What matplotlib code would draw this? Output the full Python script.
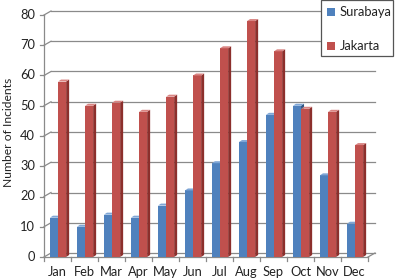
import matplotlib
matplotlib.use("Agg")
import matplotlib.pyplot as plt
from matplotlib.patches import Polygon, Rectangle
from matplotlib import transforms

months = ["Jan", "Feb", "Mar", "Apr", "May", "Jun", "Jul", "Aug", "Sep", "Oct", "Nov", "Dec"]
surabaya = [13, 10, 14, 13, 17, 22, 31, 38, 47, 50, 27, 11]
jakarta = [58, 50, 51, 48, 53, 60, 69, 78, 68, 49, 48, 37]
series_names = ["Surabaya", "Jakarta"]
yticks = [0, 10, 20, 30, 40, 50, 60, 70, 80]

W, H = 395, 278
DPI = 100
plt.rcParams['font.family'] = ['Lato', 'DejaVu Sans']
FS = 9.3

fig = plt.figure(figsize=(W / DPI, H / DPI), dpi=DPI)
L, R, B, T = 44, 368, 257, 15
ax = fig.add_axes([L / W, (H - B) / H, (R - L) / W, (B - T) / H])
ax.set_xlim(0, len(months))
ax.set_ylim(0, 80)
ax.axis('off')

grid_c = "#8a8a8a"
DX, DY = 7, 4  # wall depth in px
back = transforms.offset_copy(ax.transData, fig, x=DX, y=DY, units='dots')

n = len(months)
px_per_x = (R - L) / n
px_per_y = (B - T) / 80.0
# back wall gridlines
for yv in yticks:
    ax.plot([0, n], [yv, yv], color=grid_c, lw=0.9, transform=back, clip_on=False, zorder=1)
# left wall diagonals
for yv in yticks:
    ax.plot([0, DX / px_per_x], [yv, yv + DY / px_per_y], color=grid_c, lw=0.9, clip_on=False, zorder=1)
# floor front edge and right diagonal
ax.plot([0, n], [0, 0], color=grid_c, lw=0.9, clip_on=False, zorder=1)
ax.plot([n, n + DX / px_per_x], [0, DY / px_per_y], color=grid_c, lw=0.9, clip_on=False, zorder=1)
# left axis
ax.plot([0, 0], [0, 80], color=grid_c, lw=0.9, clip_on=False, zorder=1)
for yv in yticks:
    ax.plot([0, -4 / px_per_x], [yv, yv], color=grid_c, lw=0.9, clip_on=False)
    ax.text(-9 / px_per_x, yv, str(yv), ha='right', va='center', fontsize=FS, color='#222222')
# category ticks
for i in range(n + 1):
    ax.plot([i, i], [0, -4 / px_per_y], color=grid_c, lw=0.9, clip_on=False)
for i, m in enumerate(months):
    ax.text(i + 0.5, -15 / px_per_y, m, ha='center', va='center', fontsize=FS, color='#222222')

colors = ["#4F81BD", "#C0504D"]
sides = ["#2f5683", "#8c2f2c"]
tops = ["#7fa6d6", "#d98583"]
bw = 0.30
ddx = 3 / px_per_x
ddy = 2 / px_per_y
offs = [0.22, 0.52]
for s, vals in enumerate([surabaya, jakarta]):
    xs = [i + offs[s] for i in range(n)]
    ax.bar(xs, vals, width=bw, align='edge', color=colors[s], edgecolor='none', zorder=3 + s)
    for x, v in zip(xs, vals):
        ax.add_patch(Polygon([(x + bw, 0), (x + bw + ddx, ddy), (x + bw + ddx, v + ddy), (x + bw, v)],
                             closed=True, facecolor=sides[s], edgecolor='none', zorder=3 + s, clip_on=False))
        ax.add_patch(Polygon([(x, v), (x + bw, v), (x + bw + ddx, v + ddy), (x + ddx, v + ddy)],
                             closed=True, facecolor=tops[s], edgecolor='none', zorder=3 + s, clip_on=False))

fig.text(9 / W, 1 - 132 / H, "Number of Incidents", rotation=90, ha='center', va='center',
         fontsize=8.7, color='#222222')

# legend
fig.patches.append(Rectangle((321 / W, 1 - 56 / H), 72 / W, 56.5 / H, transform=fig.transFigure,
                             facecolor='white', edgecolor='#555555', lw=0.9, zorder=10))
for k, (nm, yc) in enumerate(zip(series_names, [12, 46])):
    fig.patches.append(Rectangle((327 / W, 1 - (yc + 4) / H), 8 / W, 8 / H, transform=fig.transFigure,
                                 facecolor=colors[k], edgecolor='none', zorder=11))
    fig.text(340 / W, 1 - yc / H, nm, ha='left', va='center', fontsize=FS, color='#222222', zorder=12)

fig.savefig("out.png", dpi=DPI)
